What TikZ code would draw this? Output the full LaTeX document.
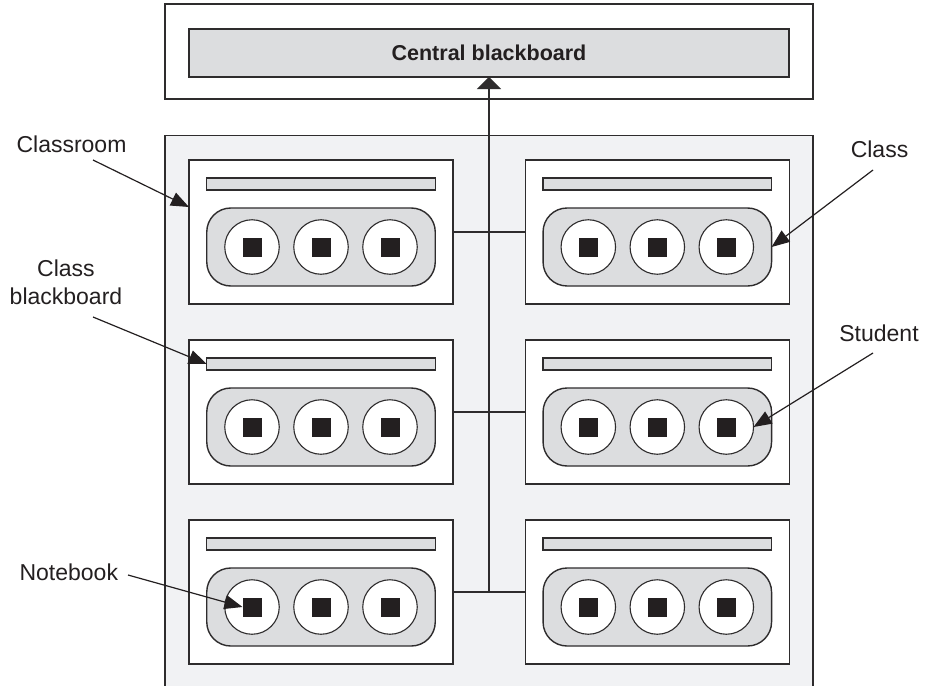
\documentclass[tikz,border=0pt]{standalone}
\usepackage{fontspec}
\setmainfont{Liberation Sans}
\usetikzlibrary{arrows.meta}
\definecolor{edge}{HTML}{2E2C2D}
\definecolor{roomfill}{HTML}{F1F2F4}
\definecolor{boardfill}{HTML}{DCDDDF}
\definecolor{ink}{HTML}{231F20}
\begin{document}
\begin{tikzpicture}[x=1pt,y=-1pt,
  box/.style={draw=edge, line width=1.5pt, fill=white, inner sep=0pt, outer sep=0pt, minimum width=264pt, minimum height=144pt},
  board/.style={draw=edge, line width=1.4pt, fill=boardfill, inner sep=0pt, outer sep=0pt, minimum width=228.5pt, minimum height=12pt},
  grp/.style={draw=edge, line width=1.4pt, fill=boardfill, rounded corners=24pt, inner sep=0pt, outer sep=0pt, minimum width=228.5pt, minimum height=78pt},
  student/.style={circle, draw=edge, line width=1.1pt, fill=white, inner sep=0pt, outer sep=0pt, minimum size=54.5pt},
  notebook/.style={fill=ink, inner sep=0pt, outer sep=0pt, minimum size=19pt},
  tag/.style={font=\fontsize{23}{28}\selectfont, text=ink, align=center, inner sep=0pt},
  link/.style={draw=edge, line width=1.4pt},
  pointer/.style={draw=ink, line width=1.2pt, -{Triangle[length=18pt,width=14pt]}},
]
\useasboundingbox (0,0) rectangle (925,685);
\clip (0,0) rectangle (925,685);

% top: central blackboard
\node[draw=edge, line width=1.5pt, fill=white, inner sep=0pt, outer sep=0pt,
      minimum width=648pt, minimum height=95pt] (top) at (489,51.5) {};
\node[board, minimum width=600pt, minimum height=48pt,
      font=\bfseries\fontsize{21.5}{26}\selectfont, text=ink] (central) at (489,53) {Central blackboard};

% classroom
\node[draw=edge, line width=1.5pt, fill=roomfill, inner sep=0pt, outer sep=0pt,
      minimum width=648pt, minimum height=560pt, anchor=north] (room) at (489,135.7) {};

% classes
\foreach \r/\y in {1/232,2/412,3/592} {
  \foreach \c/\x in {L/321,R/657.3} {
    \node[box] (class\c\r) at (\x,\y) {};
    \node[board] (bb\c\r) at ({\x},{\y-48}) {};
    \node[grp] (grp\c\r) at ({\x},{\y+15}) {};
    \foreach \k/\dx in {1/-69,2/0,3/69} {
      \node[student] (st\c\r\k) at ({\x+\dx},{\y+15}) {};
      \node[notebook] (nb\c\r\k) at ({\x+\dx},{\y+15}) {};
    }
  }
}

% bus connectors
\coordinate (j3) at (489,592);
\foreach \r in {1,2,3} {
  \draw[link] (classL\r.east) -- (classR\r.west);
}
\draw[link, -{Triangle[length=12pt,width=24pt]}] (j3) -- (central.south);

% labels
\node[tag, anchor=base] (lroom) at (71.5,152.3) {Classroom};
\node[tag] (lboard) at (66,282.6) {Class\\blackboard};
\node[tag, anchor=base] (lclass) at (879.5,157.3) {Class};
\node[tag, anchor=base] (lstudent) at (879,341.7) {Student};
\node[tag, anchor=base] (lnote) at (68.8,580) {Notebook};

\coordinate (sroom) at (93,160);
\coordinate (sboard) at (93,317);
\coordinate (sclass) at (873,170);
\coordinate (sstudent) at (873,353);
\coordinate (snote) at (128,575);

\draw[pointer] (sroom) -- ([yshift=25pt]classL1.west);
\draw[pointer] (sboard) -- (bbL2.west);
\draw[pointer] (sclass) -- (grpR1.east);
\draw[pointer] (sstudent) -- (stR23.east);
\draw[pointer] (snote) -- (nbL31.west);
\end{tikzpicture}
\end{document}
